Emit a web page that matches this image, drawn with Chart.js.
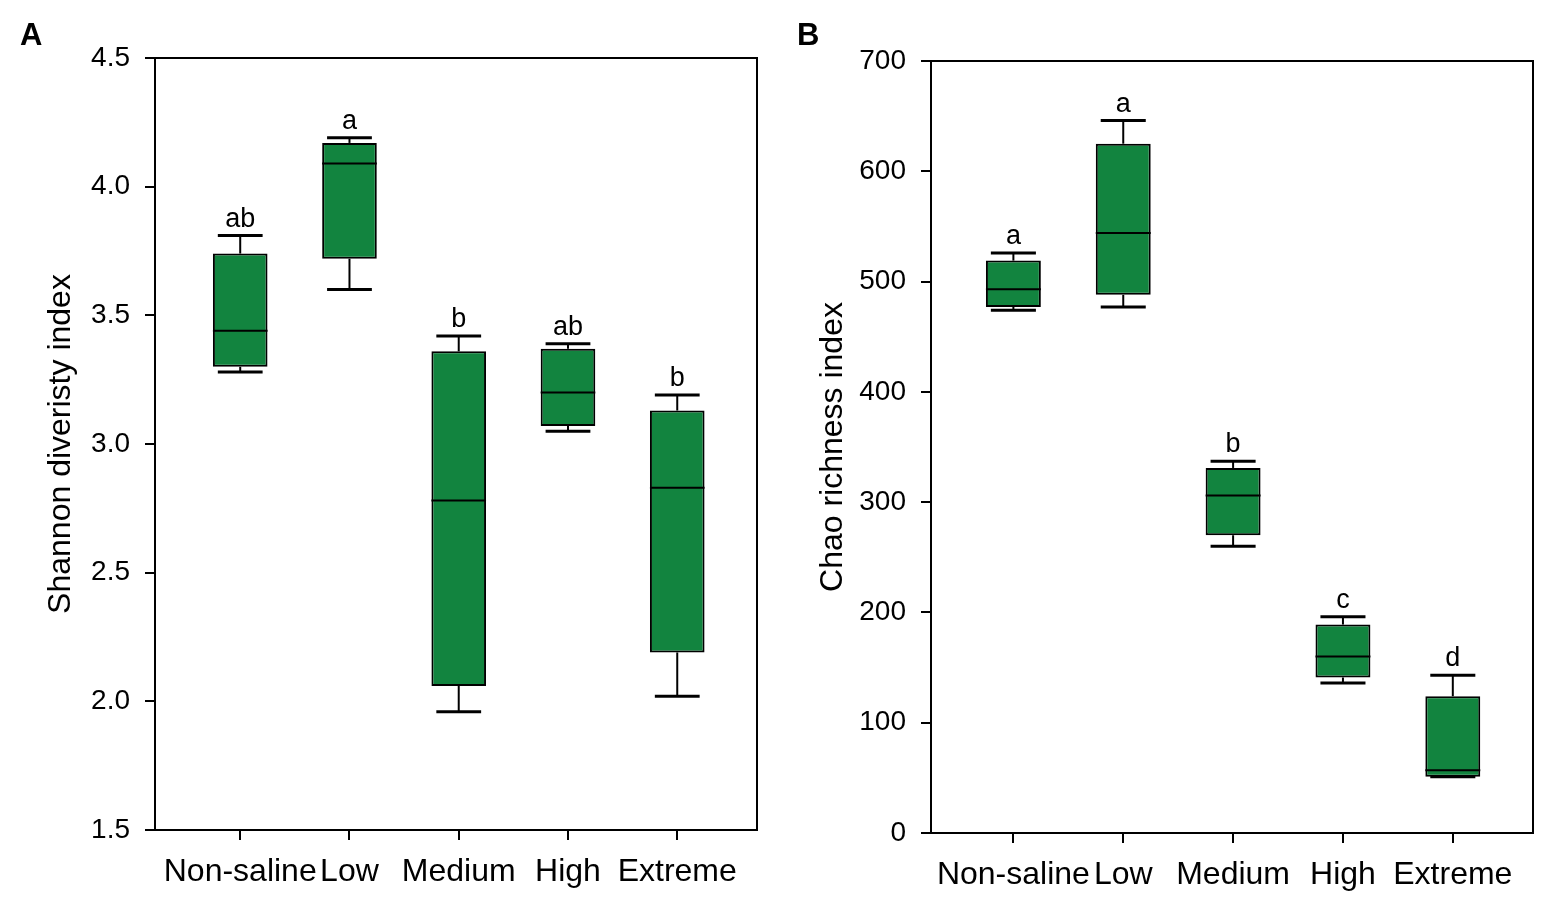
<!DOCTYPE html>
<html lang="en">
<head>
<meta charset="UTF-8">
<title>Shannon and Chao indices by salinity</title>
<script src="https://cdn.jsdelivr.net/npm/chart.js"></script>
<style>
  body { margin: 0; background: #fff; font-family: "Liberation Sans", Arial, sans-serif; }
  .panel { position: absolute; top: 0; width: 781px; height: 917px; }
  #panelA { left: 0; }
  #panelB { left: 781px; }
  .tag { position: absolute; top: 17px; font-weight: bold; font-size: 31px; color: #000; }
</style>
</head>
<body>
<div class="panel" id="panelA"><canvas id="chartA"></canvas></div>
<div class="panel" id="panelB"><canvas id="chartB"></canvas></div>
<div class="tag" style="left:20px">A</div>
<div class="tag" style="left:797px">B</div>
<script>
// salinity groups
const categories = ["Non-saline", "Low", "Medium", "High", "Extreme"];

// panel A - Shannon diversity
const shannonMin = [3.28, 3.60, 1.96, 3.05, 2.02];
const shannonQ1 = [3.30, 3.72, 2.06, 3.07, 2.19];
const shannonMedian = [3.44, 4.09, 2.78, 3.20, 2.83];
const shannonQ3 = [3.74, 4.17, 3.36, 3.37, 3.13];
const shannonMax = [3.81, 4.19, 3.42, 3.39, 3.19];
const shannonLetters = ["ab", "a", "b", "ab", "b"];
const shannonTicks = [1.5, 2.0, 2.5, 3.0, 3.5, 4.0, 4.5];

// panel B - Chao richness
const chaoMin = [474, 477, 260, 136, 51];
const chaoQ1 = [477, 488, 270, 141, 51];
const chaoMedian = [493, 544, 306, 160, 57];
const chaoQ3 = [519, 625, 331, 189, 124];
const chaoMax = [526, 646, 337, 196, 143];
const chaoLetters = ["a", "a", "b", "c", "d"];
const chaoTicks = [0, 100, 200, 300, 400, 500, 600, 700];

Chart.defaults.font.family = '"Liberation Sans", Arial, sans-serif';
Chart.defaults.color = "#000";

// whiskers, medians, letters and the frame
const boxExtras = {
    id: "boxExtras",
    afterDatasetsDraw(chart) {
        const { ctx, chartArea, scales: { y } } = chart;
        const ds = chart.data.datasets[0];
        const meta = chart.getDatasetMeta(0);
        const line = (x1, y1, x2, y2) => {
            ctx.beginPath();
            ctx.moveTo(x1, y1);
            ctx.lineTo(x2, y2);
            ctx.stroke();
        };
        ctx.save();
        ctx.strokeStyle = "#000";
        ctx.fillStyle = "#000";
        ctx.font = '27px "Liberation Sans", Arial, sans-serif';
        ctx.textAlign = "center";
        ctx.textBaseline = "alphabetic";
        meta.data.forEach((bar, i) => {
            const half = bar.width / 2;
            const cap = bar.width * 0.41;
            const yMin = y.getPixelForValue(ds.whiskerMin[i]);
            const yQ1 = y.getPixelForValue(ds.data[i].y[0]);
            const yQ3 = y.getPixelForValue(ds.data[i].y[1]);
            const yMed = y.getPixelForValue(ds.median[i]);
            const yMax = y.getPixelForValue(ds.whiskerMax[i]);
            ctx.lineWidth = 2;
            line(bar.x, yQ3, bar.x, yMax);
            line(bar.x, yQ1, bar.x, yMin);
            line(bar.x - half, yMed, bar.x + half, yMed);
            ctx.lineWidth = 3;
            line(bar.x - cap, yMax, bar.x + cap, yMax);
            line(bar.x - cap, yMin, bar.x + cap, yMin);
            ctx.fillText(ds.letters[i], bar.x, yMax - 9);
        });
        ctx.lineWidth = 2;
        ctx.strokeRect(chartArea.left, chartArea.top, chartArea.width, chartArea.height);
        ctx.restore();
    }
};

function makeBoxChart(canvasId, cfg) {
    const data = cfg.q1.map((q1, i) => ({ x: i + 1, y: [q1, cfg.q3[i]] }));
    return new Chart(document.getElementById(canvasId), {
        type: "bar",
        data: {
            datasets: [{
                data: data,
                whiskerMin: cfg.min,
                whiskerMax: cfg.max,
                median: cfg.median,
                letters: cfg.letters,
                backgroundColor: "#12843f",
                borderColor: "#000",
                borderWidth: 2,
                borderSkipped: false,
                barPercentage: 0.5,
                categoryPercentage: 1.0
            }]
        },
        options: {
            responsive: true,
            maintainAspectRatio: false,
            animation: false,
            layout: { padding: cfg.padding },
            plugins: { legend: { display: false }, tooltip: { enabled: false } },
            scales: {
                x: {
                    type: "linear",
                    offset: false,
                    min: cfg.xMin,
                    max: cfg.xMax,
                    afterBuildTicks: s => { s.ticks = categories.map((c, i) => ({ value: i + 1 })); },
                    afterFit: s => { s.height = cfg.xHeight; },
                    ticks: {
                        callback: v => categories[v - 1],
                        font: { size: 32 },
                        padding: 13,
                        maxRotation: 0,
                        autoSkip: false
                    },
                    grid: { offset: false, drawOnChartArea: false, drawTicks: true, tickLength: 10, color: "#000", lineWidth: 2 },
                    border: { display: true, color: "#000", width: 2 }
                },
                y: {
                    min: cfg.ticks[0],
                    max: cfg.ticks[cfg.ticks.length - 1],
                    afterBuildTicks: s => { s.ticks = cfg.ticks.map(v => ({ value: v })); },
                    afterFit: s => { s.width = cfg.yWidth; },
                    ticks: {
                        callback: cfg.tickFormat,
                        font: { size: 28 },
                        padding: 15
                    },
                    title: {
                        display: true,
                        text: cfg.title,
                        font: { size: 32 },
                        padding: { top: cfg.titlePad, bottom: 0 }
                    },
                    grid: { drawOnChartArea: false, drawTicks: true, tickLength: 10, color: "#000", lineWidth: 2 },
                    border: { display: true, color: "#000", width: 2 }
                }
            }
        },
        plugins: [boxExtras]
    });
}

makeBoxChart("chartA", {
    min: shannonMin, q1: shannonQ1, median: shannonMedian, q3: shannonQ3, max: shannonMax,
    letters: shannonLetters, ticks: shannonTicks,
    tickFormat: v => v.toFixed(1),
    title: "Shannon diveristy index",
    xMin: 0.22, xMax: 5.73,
    padding: { left: 0, right: 24, top: 58, bottom: 0 },
    yWidth: 155, xHeight: 87, titlePad: 42
});

makeBoxChart("chartB", {
    min: chaoMin, q1: chaoQ1, median: chaoMedian, q3: chaoQ3, max: chaoMax,
    letters: chaoLetters, ticks: chaoTicks,
    tickFormat: v => String(v),
    title: "Chao richness index",
    xMin: 0.25, xMax: 5.73,
    padding: { left: 0, right: 29, top: 61, bottom: 0 },
    yWidth: 150, xHeight: 84, titlePad: 33
});
</script>
</body>
</html>
